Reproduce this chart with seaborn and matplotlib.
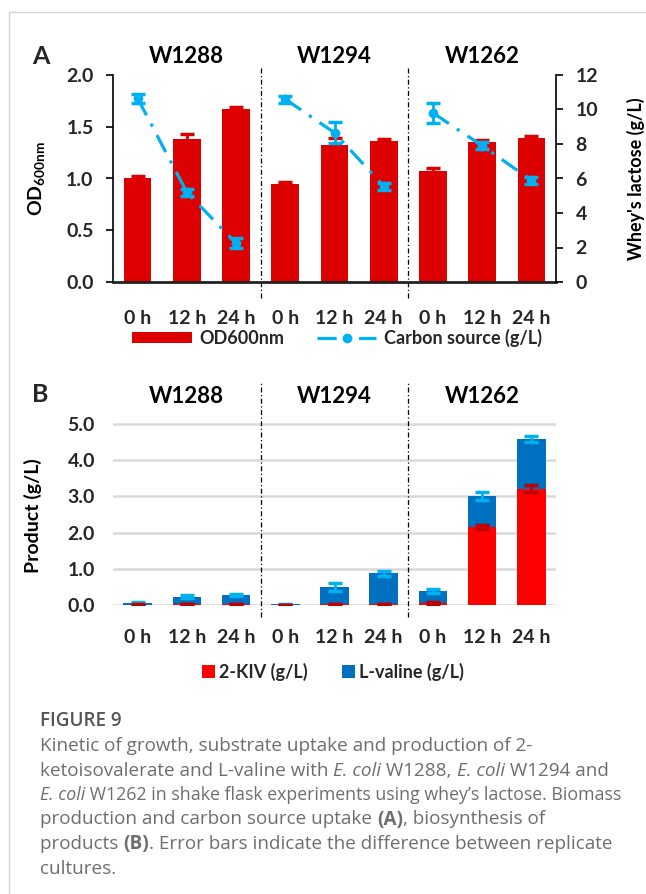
import numpy as np
import pandas as pd
import matplotlib
matplotlib.use("Agg")
import matplotlib.pyplot as plt
import matplotlib.transforms as mtransforms
from matplotlib.lines import Line2D
from matplotlib.patches import Patch
import seaborn as sns

# ---- data ----
strains = ["W1288", "W1294", "W1262"]
times = ["0 h", "12 h", "24 h"]

# panel A: biomass and whey lactose
od600 = [1.00, 1.38, 1.67, 0.95, 1.32, 1.36, 1.07, 1.35, 1.39]
od600_err = [0.02, 0.05, 0.02, 0.02, 0.07, 0.02, 0.03, 0.02, 0.02]
lactose = [10.65, 5.2, 2.25, 10.6, 8.65, 5.55, 9.8, 7.9, 5.9]
lactose_err = [0.25, 0.2, 0.3, 0.2, 0.6, 0.2, 0.6, 0.2, 0.2]

# panel B: products (stacked)
kiv = [0.01, 0.03, 0.03, 0.00, 0.03, 0.03, 0.05, 2.16, 3.21]
kiv_err = [0.01, 0.01, 0.01, 0.0, 0.01, 0.01, 0.02, 0.05, 0.10]
valine = [0.04, 0.20, 0.24, 0.02, 0.46, 0.84, 0.34, 0.85, 1.37]
valine_err = [0.02, 0.05, 0.03, 0.01, 0.11, 0.08, 0.06, 0.12, 0.08]

RED_A = "#DD0000"
RED_B = "#FF0000"
RED_ERR = "#C00000"
BLUE_B = "#0070C0"
LIGHT_BLUE = "#00B0F0"
TICK_SIZE = 14

sns.set_theme(style="white")
plt.rcParams["font.family"] = ["Lato", "DejaVu Sans"]
plt.rcParams["mathtext.default"] = "regular"

W, H = 646, 894
fig = plt.figure(figsize=(W / 100, H / 100), dpi=100)


def px_box(l, t, r, b):
    return [l / W, 1 - b / H, (r - l) / W, (b - t) / H]


slots = [f"{s} {t}" for s in strains for t in times]
xpos = np.arange(len(slots))
df = pd.DataFrame({
    "slot": slots,
    "od": od600,
    "kiv": kiv,
    "total": np.array(kiv) + np.array(valine),
})

# ---------------- panel A ----------------
axA = fig.add_axes(px_box(113, 75, 556, 282))
sns.barplot(data=df, x="slot", y="od", color=RED_A, width=0.56, saturation=1,
            errorbar=None, linewidth=0, ax=axA)
axA.errorbar(xpos, od600, yerr=od600_err, fmt="none", ecolor=RED_A,
             elinewidth=2, capsize=5, capthick=2.5)
axA.set_xlim(-0.5, 8.5)
axA.set_ylim(0, 2.0)
axA.set_yticks(np.arange(0, 2.01, 0.5), [f"{v:.1f}" for v in np.arange(0, 2.01, 0.5)])
axA.set_xticks(xpos, times * 3)
axA.tick_params(axis="x", length=0, pad=20, labelsize=TICK_SIZE)
axA.tick_params(axis="y", direction="out", length=5, width=1.2, pad=9,
                labelsize=TICK_SIZE, left=True, color="black")
for lab in axA.get_xticklabels() + axA.get_yticklabels():
    lab.set_fontweight("bold")
axA.spines["top"].set_visible(False)
axA.spines["right"].set_visible(False)
axA.spines["left"].set_color("black")
axA.spines["left"].set_linewidth(1.2)
axA.spines["bottom"].set_color("#222222")
axA.spines["bottom"].set_linewidth(2)
axA.set_xlabel("")
axA.set_ylabel("OD$_{600nm}$", fontsize=14, fontweight="bold", color="black")
axA.yaxis.set_label_coords(-0.15, 0.5)

ax2 = axA.twinx()
dash_dot = (0, (6, 3, 1, 3))
for g in range(3):
    sl = slice(3 * g, 3 * g + 3)
    sub = pd.DataFrame({"x": xpos[sl], "y": lactose[sl]})
    sns.lineplot(data=sub, x="x", y="y", color=LIGHT_BLUE, lw=2.3, linestyle=dash_dot,
                 marker="o", markersize=7, markeredgewidth=0, ax=ax2)
    ax2.errorbar(xpos[sl], lactose[sl], yerr=lactose_err[sl], fmt="none",
                 ecolor=LIGHT_BLUE, elinewidth=2, capsize=5, capthick=2.5)
ax2.set_xlim(-0.5, 8.5)
ax2.set_ylim(0, 12)
ax2.set_yticks(range(0, 13, 2))
ax2.tick_params(axis="y", direction="out", length=5, width=1.2, pad=9,
                labelsize=TICK_SIZE, right=True, color="black")
for lab in ax2.get_yticklabels():
    lab.set_fontweight("bold")
for side in ["top", "left", "bottom"]:
    ax2.spines[side].set_visible(False)
ax2.spines["right"].set_color("black")
ax2.spines["right"].set_linewidth(1.2)
ax2.set_xlabel("")
ax2.set_ylabel("Whey's lactose (g/L)", fontsize=13, fontweight="bold", color="black")
ax2.yaxis.set_label_coords(1.16, 0.5)

transA = mtransforms.blended_transform_factory(axA.transData, axA.transAxes)
for xd in (2.5, 5.5):
    axA.plot([xd, xd], [-0.077, 1.039], transform=transA, color="black", lw=0.9,
             linestyle=(0, (4, 2, 1, 2)), clip_on=False)
for g, name in enumerate(strains):
    axA.text(3 * g + 1, 1.087, name, transform=transA, ha="center", va="center",
             fontsize=16, fontweight="bold", color="black")

fig.legend(handles=[Patch(facecolor=RED_A, edgecolor="none"),
                    Line2D([], [], color=LIGHT_BLUE, lw=2.3, linestyle=dash_dot,
                           marker="o", markersize=7, markeredgewidth=0)],
           labels=["OD600nm", "Carbon source (g/L)"],
           loc="center", bbox_to_anchor=(337 / W, 1 - 338 / H), ncol=2,
           frameon=False, prop={"size": 13, "weight": "bold"},
           handlelength=3.3, handleheight=0.5, handletextpad=0.4, columnspacing=1.8)

# ---------------- panel B ----------------
axB = fig.add_axes(px_box(113, 422, 556, 605))
sns.barplot(data=df, x="slot", y="total", color=BLUE_B, width=0.58, saturation=1,
            errorbar=None, linewidth=0, ax=axB)
sns.barplot(data=df, x="slot", y="kiv", color=RED_B, width=0.58, saturation=1,
            errorbar=None, linewidth=0, ax=axB)
axB.errorbar(xpos, df["total"], yerr=valine_err, fmt="none", ecolor=LIGHT_BLUE,
             elinewidth=2, capsize=5, capthick=2.5)
axB.errorbar(xpos, kiv, yerr=kiv_err, fmt="none", ecolor=RED_ERR,
             elinewidth=2, capsize=5, capthick=2.5)
axB.set_xlim(-0.5, 8.5)
axB.set_ylim(0, 5.05)
axB.set_yticks(np.arange(0, 5.01, 1.0), [f"{v:.1f}" for v in np.arange(0, 5.01, 1.0)])
axB.set_xticks(xpos, times * 3)
axB.yaxis.grid(True, color="#D9D9D9", lw=1.8)
axB.set_axisbelow(True)
for side in axB.spines:
    axB.spines[side].set_visible(False)
axB.tick_params(axis="x", length=0, pad=17, labelsize=TICK_SIZE)
axB.tick_params(axis="y", length=0, pad=13, labelsize=TICK_SIZE)
for lab in axB.get_xticklabels() + axB.get_yticklabels():
    lab.set_fontweight("bold")
axB.set_xlabel("")
axB.set_ylabel("Product (g/L)", fontsize=14, fontweight="bold", color="black")
axB.yaxis.set_label_coords(-0.16, 0.49)

transB = mtransforms.blended_transform_factory(axB.transData, axB.transAxes)
for xd in (2.5, 5.5):
    axB.plot([xd, xd], [-0.066, 1.213], transform=transB, color="black", lw=0.9,
             linestyle=(0, (4, 2, 1, 2)), clip_on=False)
for g, name in enumerate(strains):
    axB.text(3 * g + 1, 1.137, name, transform=transB, ha="center", va="center",
             fontsize=16, fontweight="bold", color="black")

fig.legend(handles=[Patch(facecolor=RED_B, edgecolor="none"),
                    Patch(facecolor=BLUE_B, edgecolor="none")],
           labels=["2-KIV (g/L)", "L-valine (g/L)"],
           loc="center", bbox_to_anchor=(333 / W, 1 - 672 / H), ncol=2,
           frameon=False, prop={"size": 13, "weight": "bold"},
           handlelength=0.7, handleheight=0.7, handletextpad=0.25, columnspacing=1.9)

# panel letters
fig.text(41 / W, 1 - 57 / H, "A", fontsize=18, fontweight="bold", ha="center", va="center")
fig.text(40 / W, 1 - 395 / H, "B", fontsize=18, fontweight="bold", ha="center", va="center")

# page border lines
fig.add_artist(Line2D([9 / W, 1], [1 - 12 / H, 1 - 12 / H], color="#D4D4D4", lw=1))
fig.add_artist(Line2D([9 / W, 9 / W], [0, 1 - 12 / H], color="#D4D4D4", lw=1))

# ---------------- caption ----------------
CAP_COLOR = "#6e6e6e"
CAP_FONT = ["Open Sans", "DejaVu Sans"]
CAP_X = 40
renderer = fig.canvas.get_renderer()


def seg_kw(style, size):
    kw = dict(fontsize=size, color=CAP_COLOR, family=CAP_FONT, fontweight="normal")
    if style == "i":
        kw["fontstyle"] = "italic"
    if style == "b":
        kw["fontweight"] = "bold"
    return kw


def seg_width(txt, **kw):
    a = fig.text(0, 0, "x" + txt + "x", **kw)
    b = fig.text(0, 0, "xx", **kw)
    w = a.get_window_extent(renderer).width - b.get_window_extent(renderer).width
    a.remove()
    b.remove()
    return w


def line_width(parts, size):
    return sum(seg_width(t, **seg_kw(s, size)) for t, s in parts)


def rich_line(y_px, parts, size, max_right):
    # the original is justified; only squeeze a line that would run off the page
    natural = line_width(parts, size)
    if CAP_X + natural > max_right:
        size = size * (max_right - CAP_X) / natural
    x = CAP_X
    for txt, st in parts:
        kw = seg_kw(st, size)
        fig.text(x / W, 1 - y_px / H, txt, va="center", ha="left", **kw)
        x += seg_width(txt, **kw)


caption = [
    [("Kinetic of growth, substrate uptake and production of 2-", "")],
    [("ketoisovalerate and L-valine with ", ""), ("E. coli", "i"), (" W1288, ", ""),
     ("E. coli", "i"), (" W1294 and", "")],
    [("E. coli", "i"), (" W1262 in shake flask experiments using whey\u2019s lactose. Biomass", "")],
    [("production and carbon source uptake ", ""), ("(A)", "b"), (", biosynthesis of", "")],
    [("products ", ""), ("(B)", "b"), (". Error bars indicate the difference between replicate", "")],
    [("cultures.", "")],
]
line_right = [586, 608, 617, 531, 597]

# one common size: average of the sizes that would fit each line to its width
probe = 13.0
fits = [probe * (r - CAP_X) / line_width(p, probe) for p, r in zip(caption, line_right)]
base = float(np.mean(fits))

fig.text(CAP_X / W, 1 - 721 / H, "FIGURE 9", fontsize=base, color="#555555",
         family=CAP_FONT, fontweight="semibold", va="center", ha="left")
for i, parts in enumerate(caption):
    rich_line(746 + 24.5 * i, parts, base, 622)

fig.savefig("out.png", dpi=100)
